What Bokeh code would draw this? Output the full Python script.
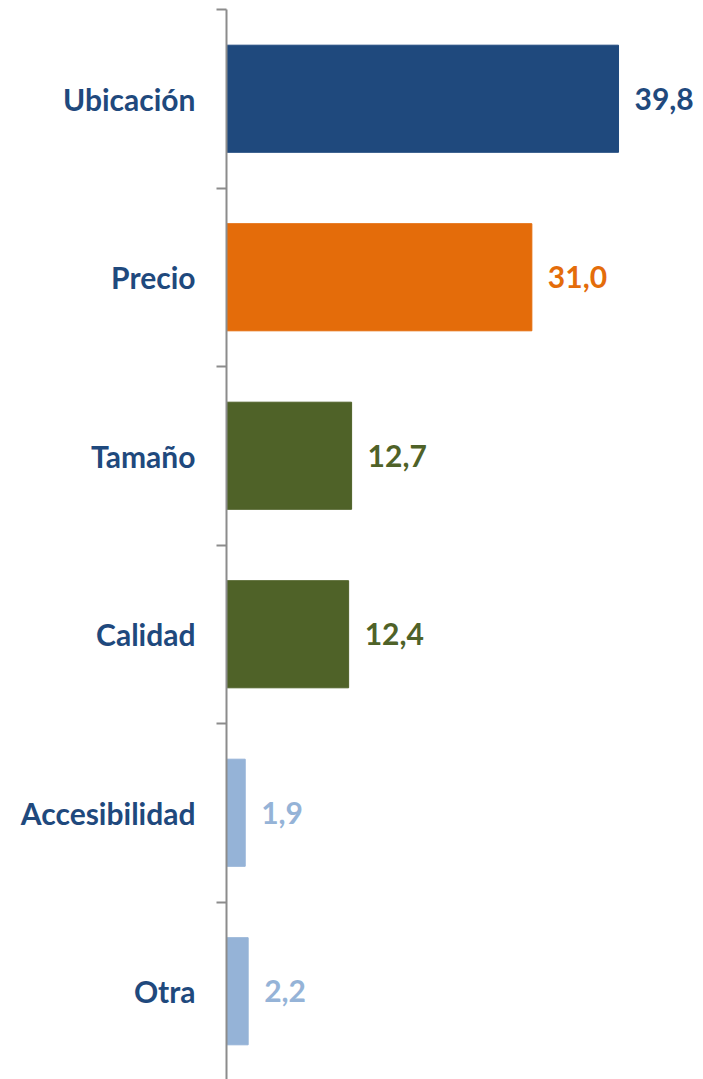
from bokeh.plotting import figure
from bokeh.models import ColumnDataSource, FixedTicker, Range1d, LabelSet
from bokeh.core.properties import value
from bokeh.embed import file_html
from bokeh.resources import INLINE

categories = ["Ubicación", "Precio", "Tamaño", "Calidad", "Accesibilidad", "Otra"]
values = [39.8, 31.0, 12.7, 12.4, 1.9, 2.2]
labels = ["39,8", "31,0", "12,7", "12,4", "1,9", "2,2"]
colors = ["#1F497D", "#E46C0A", "#4F6228", "#4F6228", "#95B3D7", "#95B3D7"]

n = len(categories)
ypos = [n - i - 0.5 for i in range(n)]

src = ColumnDataSource(dict(y=ypos, v=values, lab=labels, col=colors, cat=categories))

W, H = 703, 1079
left = 226
top = 9
frame_w = W - left
frame_h = H - top
px_per_unit = 9.85
band_px = 178.5

p = figure(width=W, height=H, output_backend="svg", toolbar_location=None,
           x_range=Range1d(0, frame_w / px_per_unit),
           y_range=Range1d(n - frame_h / band_px, n),
           min_border_left=left, min_border_right=0, min_border_top=top, min_border_bottom=0)

p.hbar(y="y", right="v", left=0, height=0.6, color="col", source=src)

p.add_layout(LabelSet(x="v", y="y", text="lab", source=src, x_offset=16, y_offset=0,
                      text_align="left", text_baseline="middle",
                      text_color="col", text_font=value("Lato"), text_font_style="bold",
                      text_font_size="30px"))

p.xaxis.visible = False
p.xgrid.visible = False
p.ygrid.visible = False
p.outline_line_color = None

ax = p.yaxis[0]
ax.ticker = FixedTicker(ticks=ypos, minor_ticks=list(range(n + 1)))
ax.major_label_overrides = {y: c for y, c in zip(ypos, categories)}
ax.major_tick_line_color = None
ax.major_tick_out = 0
ax.major_tick_in = 0
ax.minor_tick_out = 10
ax.minor_tick_in = 0
ax.minor_tick_line_color = "#8C8C8C"
ax.minor_tick_line_width = 2
ax.axis_line_color = "#8C8C8C"
ax.axis_line_width = 2
ax.major_label_standoff = 21
ax.major_label_text_font = "Lato"
ax.major_label_text_font_style = "bold"
ax.major_label_text_font_size = "30px"
ax.major_label_text_color = "#1F497D"

open("out.html", "w").write(file_html(p, INLINE))
